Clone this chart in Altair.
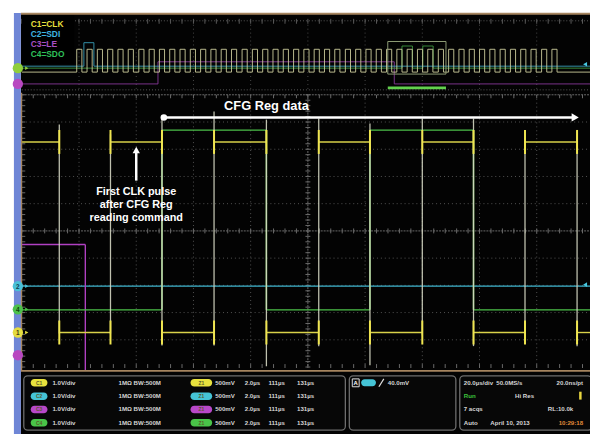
import altair as alt
import pandas as pd

# ================= values =================
zoom_window_us = [111.0, 131.0]        # main (zoom) window: 111 µs .. 131 µs, 2.0 µs/div
overview_window_us = [-17.0, 183.0]    # acquisition overview, 20.0 µs/div

# ---- zoomed window (500 mV/div) ----
clk_edges_us = [112.31, 114.10, 115.90, 117.72, 119.55, 121.38, 123.17, 125.00, 126.79, 128.59, 130.41]
clk_edge_top_v = [3.82, 3.64, 3.93, 4.06, 3.91, 3.93, 3.84, 3.93, 3.93, 3.57, 3.70]
clk_edge_bottom_v = [-0.02, -0.02, -0.24, -0.24, -0.62, -0.25, -0.60, -0.05, -0.25, -0.02, -0.25]
clk_levels_v = [3.5, 0.0]
clk_starts_high = True

sdo_edges_us = [115.90, 119.55, 123.17, 126.79]
sdo_levels_v = [3.3, 0.0]
sdo_starts_high = False

sdi_level_v = 0.0

le_edges_us = [113.22]
le_levels_v = [3.3, 0.0]
le_starts_high = True

# ---- overview (1.0 V/div) ----
ov_clk_rise_us = [2.2, 5.8, 9.4, 13.0, 16.6, 20.2, 23.9, 27.5, 31.1, 34.7, 38.3, 41.9,
                  45.5, 49.1, 52.7, 56.3, 60.0, 63.6, 67.2, 70.8, 74.4, 78.0, 81.6, 85.2,
                  88.8, 92.4, 96.1, 99.7, 103.3, 106.9, 110.5, 114.1, 117.7, 121.3, 124.9,
                  128.6, 132.2, 135.8, 139.4, 143.0, 146.6, 150.2, 153.8, 157.4, 161.0,
                  164.7, 168.3]
ov_clk_pulse_width_us = 1.8
ov_sdi_high_us = [[4.7, 8.2]]
ov_sdo_high_us = [[115.9, 119.55], [123.17, 126.79]]
ov_le_high_us = [[30.6, 113.2]]

channel_names = ["C1=CLK", "C2=SDI", "C3=LE", "C4=SDO"]
vert_labels = ["1.0V/div", "1.0V/div", "1.0V/div", "1.0V/div"]
zoom_labels = ["500mV", "2.0µs", "111µs", "131µs"]

# ================= layout / style (image pixels) =================
OFF = 8
W, H = 590, 433
MAIN_L, MAIN_R, MAIN_T, MAIN_B = 22, 602, 93, 369
DX, DY = 58.0, 27.6
MAIN_GND = {"C1": 334, "C2": 287, "C3": 427, "C4": 311}
MAIN_PX_PER_V = 55.2
OV_GND = {"C1": 70, "C2": 64, "C3": 82, "C4": 66}
OV_PX_PER_V = 6.8

YEL, CYA, PUR, GRN = "#d9d24a", "#3fb6cf", "#b040c2", "#4cc04a"
FONT = "Liberation Sans"

SX = alt.Scale(domain=[OFF, OFF + W], range=[0, W])
SY = alt.Scale(domain=[OFF, OFF + H], range=[0, H])
MX = alt.Scale(domain=zoom_window_us, range=[MAIN_L - OFF, MAIN_R - OFF])
OX = alt.Scale(domain=overview_window_us, range=[MAIN_L - OFF, MAIN_R - OFF])


def main_y(ch):
    g = MAIN_GND[ch] - OFF
    return alt.Scale(domain=[0, 1], range=[g, g - MAIN_PX_PER_V])


def ov_y(ch):
    g = OV_GND[ch] - OFF
    return alt.Scale(domain=[0, 1], range=[g, g - OV_PX_PER_V])


def step(edges, starts_high, levels, t0, t1):
    hi, lo = levels
    bounds = [t0] + list(edges) + [t1]
    segs, high = [], starts_high
    for a, b in zip(bounds[:-1], bounds[1:]):
        segs.append({"t0": a, "t1": b, "v": hi if high else lo})
        high = not high
    eds = pd.DataFrame([{"t": e, "v0": lo, "v1": hi} for e in edges])
    return pd.DataFrame(segs), eds


def hsegs(df, xs, ys, color, width=1.3, opacity=1.0):
    return alt.Chart(df).mark_rule(color=color, strokeWidth=width, opacity=opacity).encode(
        x=alt.X("t0:Q", scale=xs, axis=None), x2="t1:Q",
        y=alt.Y("v:Q", scale=ys, axis=None))


def vsegs(df, xs, ys, color, width=1.2, opacity=1.0):
    return alt.Chart(df).mark_rule(color=color, strokeWidth=width, opacity=opacity).encode(
        x=alt.X("t:Q", scale=xs, axis=None),
        y=alt.Y("v0:Q", scale=ys, axis=None), y2="v1:Q")


def rects(rows, **mk):
    return alt.Chart(pd.DataFrame(rows)).mark_rect(**mk).encode(
        x=alt.X("x:Q", scale=SX, axis=None), x2="x2:Q",
        y=alt.Y("y:Q", scale=SY, axis=None), y2="y2:Q")


def lines(rows, **mk):
    return alt.Chart(pd.DataFrame(rows)).mark_rule(**mk).encode(
        x=alt.X("x:Q", scale=SX, axis=None), x2="x2:Q",
        y=alt.Y("y:Q", scale=SY, axis=None), y2="y2:Q")


def texts(rows, **mk):
    return alt.Chart(pd.DataFrame(rows)).mark_text(font=FONT, **mk).encode(
        x=alt.X("x:Q", scale=SX, axis=None),
        y=alt.Y("y:Q", scale=SY, axis=None),
        text="text:N",
        color=alt.Color("color:N", scale=None))


def points(rows, **mk):
    return alt.Chart(pd.DataFrame(rows)).mark_point(filled=True, opacity=1, **mk).encode(
        x=alt.X("x:Q", scale=SX, axis=None),
        y=alt.Y("y:Q", scale=SY, axis=None),
        color=alt.Color("color:N", scale=None))


layers = []

# ---- screen background ----
layers.append(rects([{"x": 21, "x2": 598, "y": 10, "y2": 437}], color="#030303"))

# ---- overview grid ----
ov_v = [{"x": MAIN_L + DX * k, "x2": MAIN_L + DX * k, "y": 18, "y2": 88} for k in range(1, 10)]
layers.append(lines(ov_v, color="#4a4a4a", strokeWidth=1, strokeDash=[1, 3]))
layers.append(lines([{"x": MAIN_L, "x2": 598, "y": 18, "y2": 18},
                     {"x": MAIN_L, "x2": 598, "y": 88, "y2": 88}],
                    color="#5a5a5a", strokeWidth=1, strokeDash=[1, 2]))
ov_ticks = [{"x": MAIN_L + DX / 5 * k, "x2": MAIN_L + DX / 5 * k, "y": 16, "y2": 21} for k in range(0, 50)]
layers.append(lines(ov_ticks, color="#5a5a5a", strokeWidth=1))

# ---- overview traces ----
ov_clk_edges = []
for r in ov_clk_rise_us:
    ov_clk_edges += [r, r + ov_clk_pulse_width_us]


def flat(iv):
    out = []
    for a, b in iv:
        out += [a, b]
    return out


t0o, t1o = overview_window_us
for edges, ch, col, lev in [
    (flat(ov_le_high_us), "C3", "#8a3a9c", [3.3, 0.0]),
    (flat(ov_sdo_high_us), "C4", "#3f9a3f", [3.3, 0.0]),
    (flat(ov_sdi_high_us), "C2", "#3aa0ba", [3.5, 0.0]),
    (ov_clk_edges, "C1", "#cfcf9e", [3.4, 0.0]),
]:
    s, e = step(edges, False, lev, t0o, t1o)
    layers.append(hsegs(s, OX, ov_y(ch), col, width=1, opacity=0.9))
    layers.append(vsegs(e, OX, ov_y(ch), col, width=1, opacity=0.9))

# zoom box and zoom position bar in overview
layers.append(rects([{"x": 393, "x2": 452, "y": 39, "y2": 72}], fill=None, stroke="#8e9c76", strokeWidth=1))
layers.append(rects([{"x": 393, "x2": 452, "y": 84.5, "y2": 87.5}], color="#62d04e"))

# legend box
layers.append(rects([{"x": 22, "x2": 75, "y": 11, "y2": 62}], color="#000000"))
leg_cols = ["#e6df3c", "#3fb4e0", "#a94fc4", "#2fc05a"]
layers.append(texts([{"x": 31, "y": 21 + 10.4 * i, "text": channel_names[i], "color": leg_cols[i]}
                     for i in range(4)], align="left", baseline="middle", fontSize=8.5, fontWeight="bold"))

# ---- main grid ----
gv = [{"x": MAIN_L + DX * k, "x2": MAIN_L + DX * k, "y": MAIN_T, "y2": MAIN_B} for k in range(1, 10) if k != 5]
gh = [{"x": MAIN_L, "x2": 598, "y": MAIN_T + DY * k, "y2": MAIN_T + DY * k} for k in range(1, 10) if k != 5]
layers.append(lines(gv + gh, color="#555555", strokeWidth=1, strokeDash=[1, 3]))
cx, cy = MAIN_L + DX * 5, MAIN_T + DY * 5
layers.append(lines([{"x": cx, "x2": cx, "y": MAIN_T, "y2": MAIN_B},
                     {"x": MAIN_L, "x2": 598, "y": cy, "y2": cy},
                     {"x": MAIN_L, "x2": 598, "y": MAIN_T, "y2": MAIN_T}],
                    color="#6c6c6c", strokeWidth=1, strokeDash=[2, 1]))
tk = []
for k in range(0, 51):
    xx = MAIN_L + DX / 5 * k
    tk += [{"x": xx, "x2": xx, "y": cy - 2.5, "y2": cy + 2.5},
           {"x": xx, "x2": xx, "y": MAIN_T, "y2": MAIN_T + 3.5},
           {"x": xx, "x2": xx, "y": MAIN_B + 1, "y2": MAIN_B - 3}]
for k in range(0, 51):
    yy = MAIN_T + DY / 5 * k
    tk += [{"x": cx - 2.5, "x2": cx + 2.5, "y": yy, "y2": yy},
           {"x": MAIN_L, "x2": MAIN_L + 3.5, "y": yy, "y2": yy}]
layers.append(lines(tk, color="#6c6c6c", strokeWidth=1))

# ---- main traces ----
t0m, t1m = zoom_window_us
# SDI
layers.append(hsegs(pd.DataFrame([{"t0": t0m, "t1": t1m, "v": sdi_level_v}]), MX, main_y("C2"), CYA, width=1.4))
# LE
s, e = step(le_edges_us, le_starts_high, le_levels_v, t0m, t1m)
layers.append(hsegs(s, MX, main_y("C3"), PUR, width=1.4))
layers.append(vsegs(e, MX, main_y("C3"), PUR, width=1.4))
# SDO
s, e = step(sdo_edges_us, sdo_starts_high, sdo_levels_v, t0m, t1m)
layers.append(hsegs(s, MX, main_y("C4"), GRN, width=1.4))
layers.append(vsegs(e, MX, main_y("C4"), "#7fd06a", width=1.6))
# CLK
s, e = step(clk_edges_us, clk_starts_high, clk_levels_v, t0m, t1m)
layers.append(hsegs(s, MX, main_y("C1"), YEL, width=1.4))
ce = pd.DataFrame({"t": clk_edges_us, "v0": clk_edge_bottom_v, "v1": clk_edge_top_v})
layers.append(vsegs(ce, MX, main_y("C1"), "#d4d6c2", width=1.3, opacity=0.9))
spk = []
for t in clk_edges_us:
    for lv in clk_levels_v:
        spk.append({"t": t, "v0": lv - 0.22, "v1": lv + 0.22})
layers.append(vsegs(pd.DataFrame(spk), MX, main_y("C1"), "#f0e650", width=2))

# trigger level markers at right edge (C2)
layers.append(points([{"x": 593, "y": 285.5, "color": "#48c8e0"},
                      {"x": 593, "y": 62, "color": "#48c8e0"}], shape="triangle-left", size=22))

# ---- annotations ----
layers.append(lines([{"x": 166, "x2": 582, "y": 116, "y2": 116},
                     {"x": 138, "x2": 138, "y": 151, "y2": 180}], color="#ffffff", strokeWidth=2.5))
layers.append(points([{"x": 166, "y": 116, "color": "#ffffff"}], shape="circle", size=45))
layers.append(points([{"x": 583, "y": 116, "color": "#ffffff"}], shape="triangle-right", size=70))
layers.append(points([{"x": 138, "y": 149, "color": "#ffffff"}], shape="triangle-up", size=55))
layers.append(texts([{"x": 270, "y": 104.5, "text": "CFG Reg data", "color": "#ffffff"}],
                    align="center", baseline="middle", fontSize=13, fontWeight="bold"))
layers.append(texts([{"x": 138, "y": 192, "text": "First CLK pulse", "color": "#ffffff"},
                     {"x": 138, "y": 205, "text": "after CFG Reg", "color": "#ffffff"},
                     {"x": 138, "y": 218, "text": "reading command", "color": "#ffffff"}],
                    align="center", baseline="middle", fontSize=11, fontWeight="bold"))

# ---- bottom status area ----
layers.append(rects([{"x": 21, "x2": 598, "y": 372, "y2": 437}], color="#030303"))
layers.append(rects([{"x": 24, "x2": 350, "y": 378, "y2": 433},
                     {"x": 354, "x2": 462, "y": 378, "y2": 433},
                     {"x": 466, "x2": 600, "y": 378, "y2": 433}],
                    fill="#070707", stroke="#6e6e6e", strokeWidth=1.3, cornerRadius=4))
pill_cols = ["#e8e23e", "#45c4d6", "#b848c8", "#49c448"]
rows_y = [385, 398.5, 412, 425.5]
pills = []
for i, yy in enumerate(rows_y):
    pills.append({"x": 31, "x2": 48, "y": yy - 3.8, "y2": yy + 3.8, "c": pill_cols[i]})
    pills.append({"x": 193, "x2": 215, "y": yy - 3.8, "y2": yy + 3.8, "c": pill_cols[i]})
layers.append(alt.Chart(pd.DataFrame(pills)).mark_rect(cornerRadius=4).encode(
    x=alt.X("x:Q", scale=SX, axis=None), x2="x2:Q",
    y=alt.Y("y:Q", scale=SY, axis=None), y2="y2:Q",
    color=alt.Color("c:N", scale=None)))
pill_txt = []
for i, yy in enumerate(rows_y):
    pill_txt.append({"x": 39.5, "y": yy, "text": "C%d" % (i + 1), "color": "#5a5a2a"})
    pill_txt.append({"x": 204, "y": yy, "text": "Z1", "color": "#5a5a2a"})
layers.append(texts(pill_txt, align="center", baseline="middle", fontSize=5, fontWeight="bold"))

st = []
for i, yy in enumerate(rows_y):
    st += [{"x": 53, "y": yy, "text": vert_labels[i], "color": "#d6d6d6"},
           {"x": 120, "y": yy, "text": "1MΩ  BW:500M", "color": "#d6d6d6"},
           {"x": 218, "y": yy, "text": zoom_labels[0], "color": "#d6d6d6"},
           {"x": 248, "y": yy, "text": zoom_labels[1], "color": "#d6d6d6"},
           {"x": 272, "y": yy, "text": zoom_labels[2], "color": "#d6d6d6"},
           {"x": 301, "y": yy, "text": zoom_labels[3], "color": "#d6d6d6"}]
st += [{"x": 393, "y": 385, "text": "40.0mV", "color": "#d6d6d6"},
       {"x": 470, "y": 385, "text": "20.0µs/div", "color": "#d6d6d6"},
       {"x": 503, "y": 385, "text": "50.0MS/s", "color": "#d6d6d6"},
       {"x": 470, "y": 398.5, "text": "Run", "color": "#3cc23c"},
       {"x": 522, "y": 398.5, "text": "Hi Res", "color": "#d6d6d6"},
       {"x": 470, "y": 412, "text": "7 acqs", "color": "#d6d6d6"},
       {"x": 470, "y": 425.5, "text": "Auto", "color": "#d6d6d6"},
       {"x": 497, "y": 425.5, "text": "April 10, 2013", "color": "#d6d6d6"}]
layers.append(texts(st, align="left", baseline="middle", fontSize=6.2, fontWeight="bold"))
st_r = [{"x": 591, "y": 385, "text": "20.0ns/pt", "color": "#d6d6d6"},
        {"x": 581, "y": 412, "text": "RL:10.0k", "color": "#d6d6d6"},
        {"x": 591, "y": 425.5, "text": "10:29:18", "color": "#e08a3a"}]
layers.append(texts(st_r, align="right", baseline="middle", fontSize=6.2, fontWeight="bold"))
# trigger readout icons
layers.append(rects([{"x": 357, "x2": 364, "y": 381, "y2": 389}], fill="#101010", stroke="#e0e0e0", strokeWidth=1))
layers.append(texts([{"x": 360.5, "y": 385.5, "text": "A", "color": "#ffffff"}], align="center", baseline="middle", fontSize=6, fontWeight="bold"))
layers.append(rects([{"x": 366, "x2": 381, "y": 381.5, "y2": 388.5}], color="#45c4d6", cornerRadius=4))
layers.append(lines([{"x": 384, "x2": 389, "y": 389, "y2": 381}], color="#e0e0e0", strokeWidth=1.2))
layers.append(rects([{"x": 587, "x2": 589.5, "y": 394, "y2": 402}], color="#e8d640"))

# ---- borders and side strip ----
layers.append(lines([{"x": 21, "x2": 598, "y": 10.8, "y2": 10.8}], color="#a6855f", strokeWidth=2))
layers.append(lines([{"x": 21, "x2": 598, "y": 373, "y2": 373},
                     {"x": 21.5, "x2": 21.5, "y": 91, "y2": 373}], color="#a6855f", strokeWidth=1.8))
layers.append(rects([{"x": 14, "x2": 21, "y": 10, "y2": 437}], color="#6f86d6"))

# channel markers
mk = [{"x": 18, "y": 287, "color": "#48c0d8"}, {"x": 18, "y": 310.5, "color": "#4cc04a"},
      {"x": 18, "y": 334, "color": "#e4dc40"}, {"x": 18, "y": 357, "color": "#b848c0"},
      {"x": 18, "y": 66, "color": "#8fce3c"}, {"x": 18, "y": 82, "color": "#b848c0"}]
layers.append(points(mk, shape="circle", size=110))
layers.append(points([{"x": 27, "y": 334, "color": "#e4dc40"}, {"x": 27, "y": 287, "color": "#48c0d8"},
                      {"x": 27, "y": 310.5, "color": "#4cc04a"}, {"x": 27, "y": 66, "color": "#8fce3c"}],
                     shape="triangle-right", size=14))
layers.append(texts([{"x": 18, "y": 287.5, "text": "2", "color": "#104050"},
                     {"x": 18, "y": 311, "text": "4", "color": "#104010"},
                     {"x": 18, "y": 334.5, "text": "1", "color": "#404010"}],
                    align="center", baseline="middle", fontSize=6.5, fontWeight="bold"))

chart = alt.layer(*layers).resolve_scale(x="independent", y="independent").properties(
    width=W, height=H, padding=0, autosize="none", background="#ffffff"
).configure_view(stroke=None)

chart.save("out.html", embed_options={"renderer": "svg", "actions": False})
